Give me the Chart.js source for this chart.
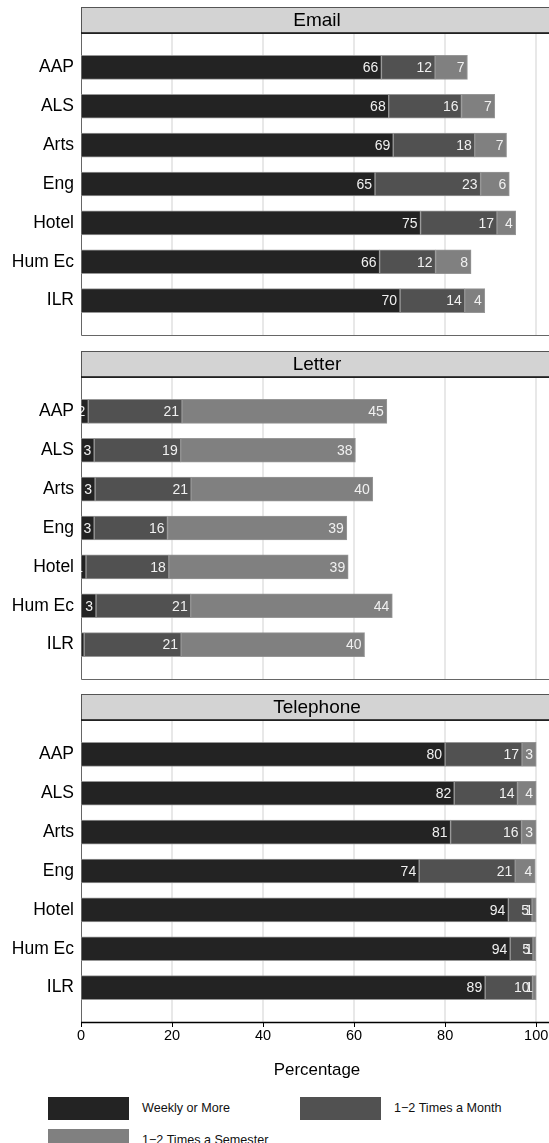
<!DOCTYPE html>
<html>
<head>
<meta charset="utf-8">
<script src="https://cdn.jsdelivr.net/npm/chart.js@4.4.1/dist/chart.umd.min.js"></script>
<style>
  html, body { margin: 0; padding: 0; overflow: hidden; background: #fff; }
  body { width: 549px; height: 1143px; position: relative; font-family: "Liberation Sans", Arial, sans-serif; }
  canvas { position: absolute; left: 0; }
  .key { position: absolute; width: 81px; height: 23px; }
  .keytext { position: absolute; font-size: 12.6px; color: #111; line-height: 23px; white-space: nowrap; }
</style>
</head>
<body>
<canvas id="email" width="553" height="332" style="top:5px"></canvas>
<canvas id="letter" width="553" height="332" style="top:349px"></canvas>
<canvas id="phone" width="553" height="400" style="top:692px"></canvas>
<div id="legend"></div>
<script>
const schools = ['AAP', 'ALS', 'Arts', 'Eng', 'Hotel', 'Hum Ec', 'ILR'];
const seriesNames = ['Weekly or More', '1\u22122 Times a Month', '1\u22122 Times a Semester'];
const seriesColors = ['#232323', '#515151', '#808080'];
const xTicks = [0, 20, 40, 60, 80, 100];

// percentages
const emailWeekly   = [66.0, 67.6, 68.6, 64.6, 74.6, 65.6, 70.1];
const emailMonth    = [11.8, 16.0, 17.9, 23.2, 16.8, 12.3, 14.2];
const emailSemester = [7.1, 7.3, 7.0, 6.3, 4.1, 7.8, 4.4];

const letterWeekly   = [1.6, 2.9, 3.1, 2.9, 1.1, 3.3, 0.7];
const letterMonth    = [20.6, 19.0, 21.1, 16.1, 18.2, 20.8, 21.3];
const letterSemester = [45.0, 38.4, 39.9, 39.4, 39.4, 44.3, 40.3];

const phoneWeekly   = [80.0, 82.0, 81.2, 74.3, 93.9, 94.3, 88.8];
const phoneMonth    = [16.9, 13.9, 15.6, 21.1, 5.2, 5.0, 10.4];
const phoneSemester = [3.1, 4.1, 3.2, 4.4, 0.9, 0.6, 0.8];

const PAD = 15, STRIP = 26;
const FONT = '"Liberation Sans", Arial, sans-serif';

const panelPlugin = {
  id: 'panel',
  beforeDatasetsDraw(chart, args, opts) {
    const { ctx, chartArea: a, scales: { x } } = chart;
    const top = a.top - PAD, bottom = a.bottom + PAD;
    ctx.save();
    ctx.strokeStyle = '#e0e0e0';
    ctx.lineWidth = 1.5;
    xTicks.forEach(v => {
      if (v === 0) return;
      const px = Math.round(x.getPixelForValue(v));
      ctx.beginPath(); ctx.moveTo(px, top); ctx.lineTo(px, bottom); ctx.stroke();
    });
    ctx.strokeStyle = '#666';
    ctx.lineWidth = 1;
    ctx.beginPath();
    ctx.moveTo(a.left + 0.5, top - STRIP);
    ctx.lineTo(a.left + 0.5, bottom + 0.5);
    ctx.lineTo(a.right + 5, bottom + 0.5);
    ctx.stroke();
    if (opts.axis) {
      ctx.strokeStyle = '#000';
      ctx.lineWidth = 1.5;
      ctx.beginPath(); ctx.moveTo(a.left, bottom + 0.5); ctx.lineTo(a.right + 5, bottom + 0.5); ctx.stroke();
      ctx.lineWidth = 1;
      xTicks.forEach(v => {
        const px = Math.round(x.getPixelForValue(v)) + 0.5;
        ctx.beginPath(); ctx.moveTo(px, bottom); ctx.lineTo(px, bottom + 5); ctx.stroke();
      });
    }
    // strip
    ctx.fillStyle = '#d3d3d3';
    ctx.fillRect(a.left, top - STRIP, a.right + 5 - a.left, STRIP);
    ctx.strokeStyle = '#555';
    ctx.lineWidth = 1;
    ctx.strokeRect(a.left + 0.5, top - STRIP + 0.5, a.right + 5 - a.left, STRIP);
    ctx.strokeStyle = '#111';
    ctx.lineWidth = 1.5;
    ctx.beginPath(); ctx.moveTo(a.left, top); ctx.lineTo(a.right + 5, top); ctx.stroke();
    ctx.fillStyle = '#000';
    ctx.font = '19px ' + FONT;
    ctx.textAlign = 'center';
    ctx.textBaseline = 'middle';
    ctx.fillText(opts.title, (a.left + a.right) / 2, top - STRIP / 2 + 1);
    ctx.restore();
  },
  afterDatasetsDraw(chart) {
    const { ctx, chartArea: a } = chart;
    ctx.save();
    ctx.beginPath();
    ctx.rect(a.left, a.top - PAD, a.right - a.left, a.bottom - a.top + 2 * PAD);
    ctx.clip();
    ctx.fillStyle = '#f0f0f0';
    ctx.font = '14px ' + FONT;
    ctx.textAlign = 'right';
    ctx.textBaseline = 'middle';
    chart.data.datasets.forEach((ds, i) => {
      chart.getDatasetMeta(i).data.forEach((bar, j) => {
        ctx.fillText(String(Math.round(ds.data[j])), bar.x - 3, bar.y + 1);
      });
    });
    ctx.restore();
  }
};

function makePanel(id, title, values, last) {
  new Chart(document.getElementById(id), {
    type: 'bar',
    data: {
      labels: schools,
      datasets: values.map((v, i) => ({
        label: seriesNames[i], data: v, backgroundColor: seriesColors[i],
        borderColor: 'rgba(140,140,140,0.9)', borderWidth: 1, borderSkipped: false, barThickness: 24
      }))
    },
    options: {
      indexAxis: 'y',
      responsive: false,
      animation: false,
      devicePixelRatio: 1,
      events: [],
      layout: { padding: { top: 2 + STRIP + PAD, bottom: last ? 0 : PAD + 2, left: 0, right: 0 } },
      scales: {
        x: {
          stacked: true, min: 0, max: 103.7,
          display: last,
          afterBuildTicks: s => { s.ticks = xTicks.map(v => ({ value: v })); },
          afterFit: s => {
            if (last) s.height = 85;
            s.paddingLeft = 0; s.paddingRight = 0;
          },
          grid: { display: false, drawTicks: false },
          border: { display: false },
          ticks: { padding: 20, color: '#000', font: { family: FONT, size: 14.5 } },
          title: { display: last, text: 'Percentage', color: '#000', font: { family: FONT, size: 16.9 }, padding: { top: 0, bottom: 12 } }
        },
        y: {
          stacked: true,
          afterFit: s => { s.width = 81; s.paddingTop = 0; s.paddingBottom = 0; },
          grid: { display: false, drawTicks: false },
          border: { display: false },
          ticks: { padding: 7, color: '#000', font: { family: FONT, size: 17.5 } }
        }
      },
      plugins: { legend: { display: false }, tooltip: { enabled: false }, panel: { title, axis: last } }
    },
    plugins: [panelPlugin]
  });
}

makePanel('email', 'Email', [emailWeekly, emailMonth, emailSemester], false);
makePanel('letter', 'Letter', [letterWeekly, letterMonth, letterSemester], false);
makePanel('phone', 'Telephone', [phoneWeekly, phoneMonth, phoneSemester], true);

// legend, two columns
const legend = document.getElementById('legend');
const keyPos = [[48, 1097], [300, 1097], [48, 1129]];
seriesNames.forEach((name, i) => {
  const box = document.createElement('div');
  box.className = 'key';
  box.style.left = keyPos[i][0] + 'px';
  box.style.top = keyPos[i][1] + 'px';
  box.style.background = seriesColors[i];
  const txt = document.createElement('div');
  txt.className = 'keytext';
  txt.style.left = (keyPos[i][0] + 94) + 'px';
  txt.style.top = keyPos[i][1] + 'px';
  txt.textContent = name;
  legend.appendChild(box);
  legend.appendChild(txt);
});
</script>
</body>
</html>
